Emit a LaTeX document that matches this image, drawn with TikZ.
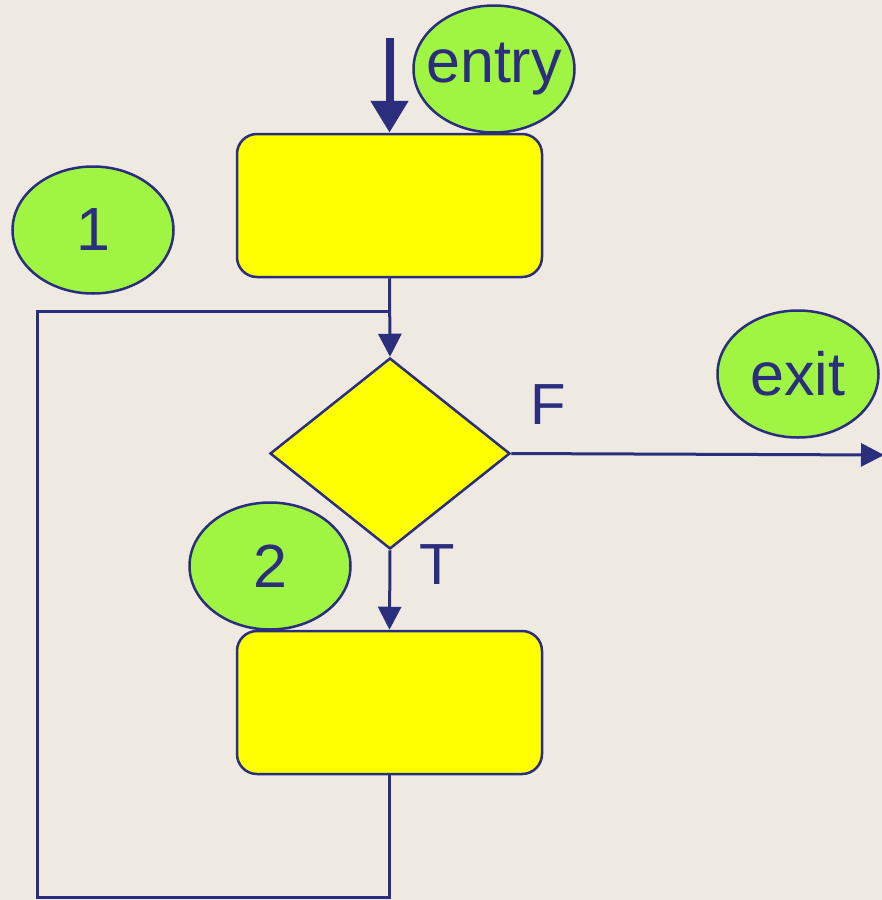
\documentclass[tikz,border=0pt]{standalone}
\usepackage{fontspec}
\setmainfont{Liberation Sans}
\usetikzlibrary{shapes.geometric,arrows.meta}
\definecolor{navy}{HTML}{2B2E7C}
\definecolor{bg}{HTML}{EEE9E1}
\definecolor{lime}{HTML}{9FF542}
\definecolor{yel}{HTML}{FFFF00}
\tikzset{
  px/.style={x=1pt,y=-1pt},
  box/.style={draw=navy,fill=yel,line width=2.5pt,rounded corners=20pt,minimum width=305pt,minimum height=143pt,inner sep=0pt},
  dec/.style={draw=navy,fill=yel,line width=2.5pt,diamond,minimum width=240pt,minimum height=191pt,inner sep=0pt,shape aspect=1.256},
  tag/.style={draw=navy,fill=lime,line width=2.5pt,ellipse,minimum width=161pt,minimum height=127pt,inner sep=0pt,
    label={[text=navy,font=\fontsize{61}{63}\selectfont,inner sep=0pt]center:#1}},
  conn/.style={draw=navy,line width=3pt},
  arr/.style={conn,-{Triangle[length=23pt,width=23pt]}},
  lbl/.style={text=navy,font=\fontsize{58}{60}\selectfont,inner sep=0pt}
}
\begin{document}
\begin{tikzpicture}[px]
\fill[bg] (0,0) rectangle (882,900);
\useasboundingbox (0,0) rectangle (882,900);
\node[box] (b1) at (389.5,205.5) {};
\node[box] (b2) at (389.5,702.5) {};
\node[dec] (d) at (390,453.5) {};
\node[tag=entry] (entry) at (494,69) {};
\node[tag=1] (t1) at (93,230) {};
\node[tag=2] (t2) at (270,566) {};
\node[tag=exit] (exit) at (798,374) {};
\node[lbl] (F) at (548,405) {F};
\node[lbl] (T) at (437,565) {T};
\coordinate (ein) at (389.5,38);
\coordinate (j) at (389.5,311);
\coordinate (c1) at (389.5,897);
\coordinate (c2) at (37,897);
\coordinate (c3) at (37,311);
\coordinate (xout) at (884,455);
\draw[draw=navy,line width=8pt,-{Triangle[length=32pt,width=36pt]}] (ein) -- (b1.north);
\draw[arr] (b1.south) -- (d.north);
\draw[arr] (d.south) -- (b2.north);
\draw[arr] (d.east) -- (xout);
\draw[conn,line join=miter] (b2.south) -- (c1) -- (c2) -- (c3) -- (j);
\end{tikzpicture}
\end{document}
